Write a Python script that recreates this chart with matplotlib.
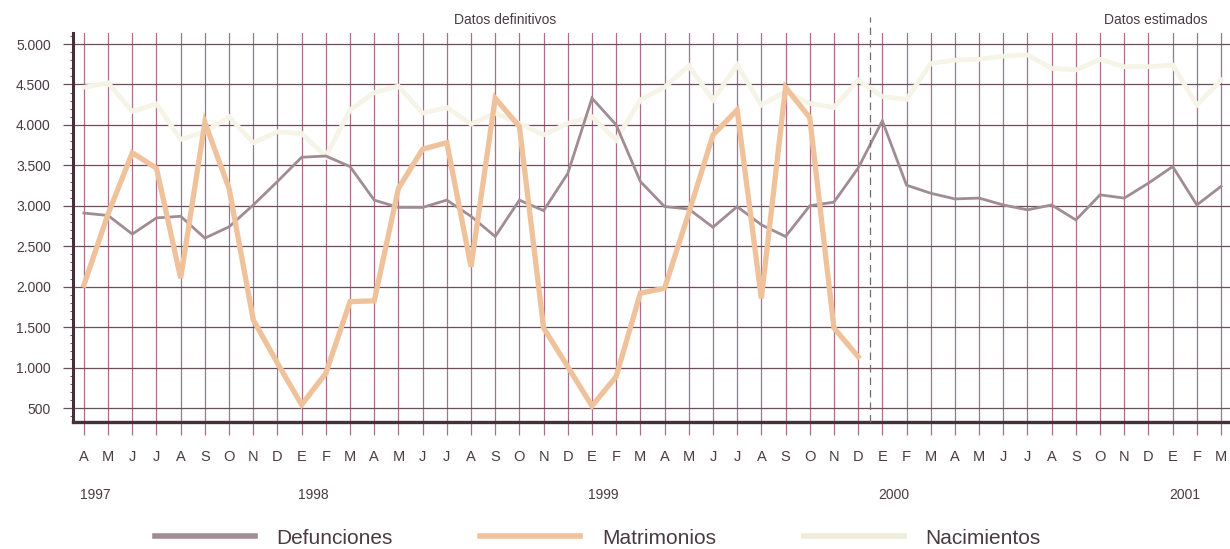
import numpy as np
import matplotlib.pyplot as plt
import matplotlib.transforms as mtransforms

plt.rcParams['font.family'] = ['Liberation Sans', 'DejaVu Sans']

# April 1997 .. March 2001 (48 months)
MONTH_LABELS = ["A", "M", "J", "J", "A", "S", "O", "N", "D",
                "E", "F", "M", "A", "M", "J", "J", "A", "S", "O", "N", "D",
                "E", "F", "M", "A", "M", "J", "J", "A", "S", "O", "N", "D",
                "E", "F", "M", "A", "M", "J", "J", "A", "S", "O", "N", "D",
                "E", "F", "M"]
YEARS = ["1997", "1998", "1999", "2000", "2001"]
YEAR_POS = [0, 9, 21, 33, 45]

defunciones = [2910, 2880, 2650, 2850, 2870, 2600, 2740, 3010, 3300,
               3600, 3615, 3485, 3070, 2980, 2980, 3070, 2870, 2620, 3070, 2940, 3400,
               4330, 4000, 3300, 2990, 2960, 2735, 2990, 2765, 2620, 3000, 3045, 3465,
               4050, 3255, 3155, 3085, 3095, 3010, 2950, 3010, 2825, 3135, 3095, 3280,
               3485, 3010, 3240]

matrimonios = [2020, 2900, 3655, 3465, 2105, 4030, 3215, 1590, 1055,
               540, 930, 1815, 1825, 3215, 3700, 3780, 2245, 4330, 3980, 1490, 1010,
               525, 890, 1920, 1980, 2910, 3875, 4185, 1855, 4465, 4090, 1490, 1135]

nacimientos = [4465, 4520, 4165, 4260, 3820, 3915, 4100, 3780, 3915,
               3895, 3610, 4185, 4400, 4480, 4145, 4215, 4010, 4145, 4020, 3875, 4020,
               4100, 3815, 4310, 4465, 4730, 4310, 4740, 4245, 4410, 4265, 4215, 4555,
               4350, 4315, 4760, 4800, 4810, 4850, 4865, 4700, 4680, 4810, 4720, 4720,
               4740, 4245, 4555]

Y_TICKS = [500, 1000, 1500, 2000, 2500, 3000, 3500, 4000, 4500, 5000]
Y_LABELS = ["500", "1.000", "1.500", "2.000", "2.500", "3.000", "3.500", "4.000", "4.500", "5.000"]

DEF_COLOR = "#A08C92"
MAT_COLOR = "#EFC29C"
NAC_COLOR = "#F5F4E6"
VGRID_COLOR = "#A8708A"
HGRID_COLOR = "#6E4E5A"
AXIS_COLOR = "#45303A"
TEXT_COLOR = "#4A3A42"

fig = plt.figure(figsize=(12.3, 5.49), dpi=100)
ax = fig.add_axes([73 / 1230, 1 - 422 / 549, 1 - 73 / 1230, (422 - 33) / 549])

x = np.arange(len(MONTH_LABELS))

ax.set_xlim(-0.45, 47.37)
ax.set_ylim(327, 5136)

# grid
for xi in x:
    ax.axvline(xi, color=VGRID_COLOR, lw=0.9, zorder=1)
for yv in Y_TICKS:
    ax.axhline(yv, color=HGRID_COLOR, lw=0.9, zorder=1)

ax.plot(x, nacimientos, color=NAC_COLOR, lw=3.4, zorder=3, solid_joinstyle='miter')
ax.plot(x, defunciones, color=DEF_COLOR, lw=2.0, zorder=4, solid_joinstyle='miter')
ax.plot(x[:len(matrimonios)], matrimonios, color=MAT_COLOR, lw=3.8, zorder=5, solid_joinstyle='miter')

# boundary between definitive and estimated data
trans = mtransforms.blended_transform_factory(ax.transData, ax.transAxes)
ax.plot([32.5, 32.5], [0, 1.04], transform=trans, color="#7A6A70", lw=0.9,
        ls=(0, (6, 4)), clip_on=False, zorder=6)

ax.text(17.4, 1.033, "Datos definitivos", transform=trans, ha='center', va='center',
        fontsize=10, color=TEXT_COLOR)
ax.text(44.3, 1.033, "Datos estimados", transform=trans, ha='center', va='center',
        fontsize=10, color=TEXT_COLOR)

# axes
for side in ['top', 'right']:
    ax.spines[side].set_visible(False)
ax.spines['left'].set_color(AXIS_COLOR)
ax.spines['left'].set_linewidth(2.2)
ax.spines['bottom'].set_color(AXIS_COLOR)
ax.spines['bottom'].set_linewidth(2.4)

ax.set_xticks(x)
ax.set_xticklabels(MONTH_LABELS)
ax.tick_params(axis='x', length=9.5, width=0.9, color=VGRID_COLOR, pad=11,
               labelsize=10.5, labelcolor=TEXT_COLOR)

ax.set_yticks(Y_TICKS)
ax.set_yticklabels(Y_LABELS)
ax.set_yticks(np.arange(400, 5101, 100), minor=True)
ax.tick_params(axis='y', which='major', length=7, width=0.9, color=HGRID_COLOR, pad=9,
               labelsize=10, labelcolor=TEXT_COLOR)
ax.tick_params(axis='y', which='minor', length=2.5, width=0.7, color=HGRID_COLOR)

for pos, yr in zip(YEAR_POS, YEARS):
    ax.text(pos - 0.15, -0.188, yr, transform=trans, ha='left', va='center',
            fontsize=10, color=TEXT_COLOR)

# legend
h1, = ax.plot([], [], color=DEF_COLOR, lw=4)
h2, = ax.plot([], [], color=MAT_COLOR, lw=4)
h3, = ax.plot([], [], color="#EEEDD8", lw=4)
fig.legend([h1, h2, h3], ["Defunciones", "Matrimonios", "Nacimientos"],
           loc='center', bbox_to_anchor=(0.486, 1 - 538 / 549), ncol=3, frameon=False,
           fontsize=15, handlelength=4.8, handletextpad=1.05, columnspacing=4.2,
           labelcolor=TEXT_COLOR)

fig.savefig("out.png", dpi=100)
